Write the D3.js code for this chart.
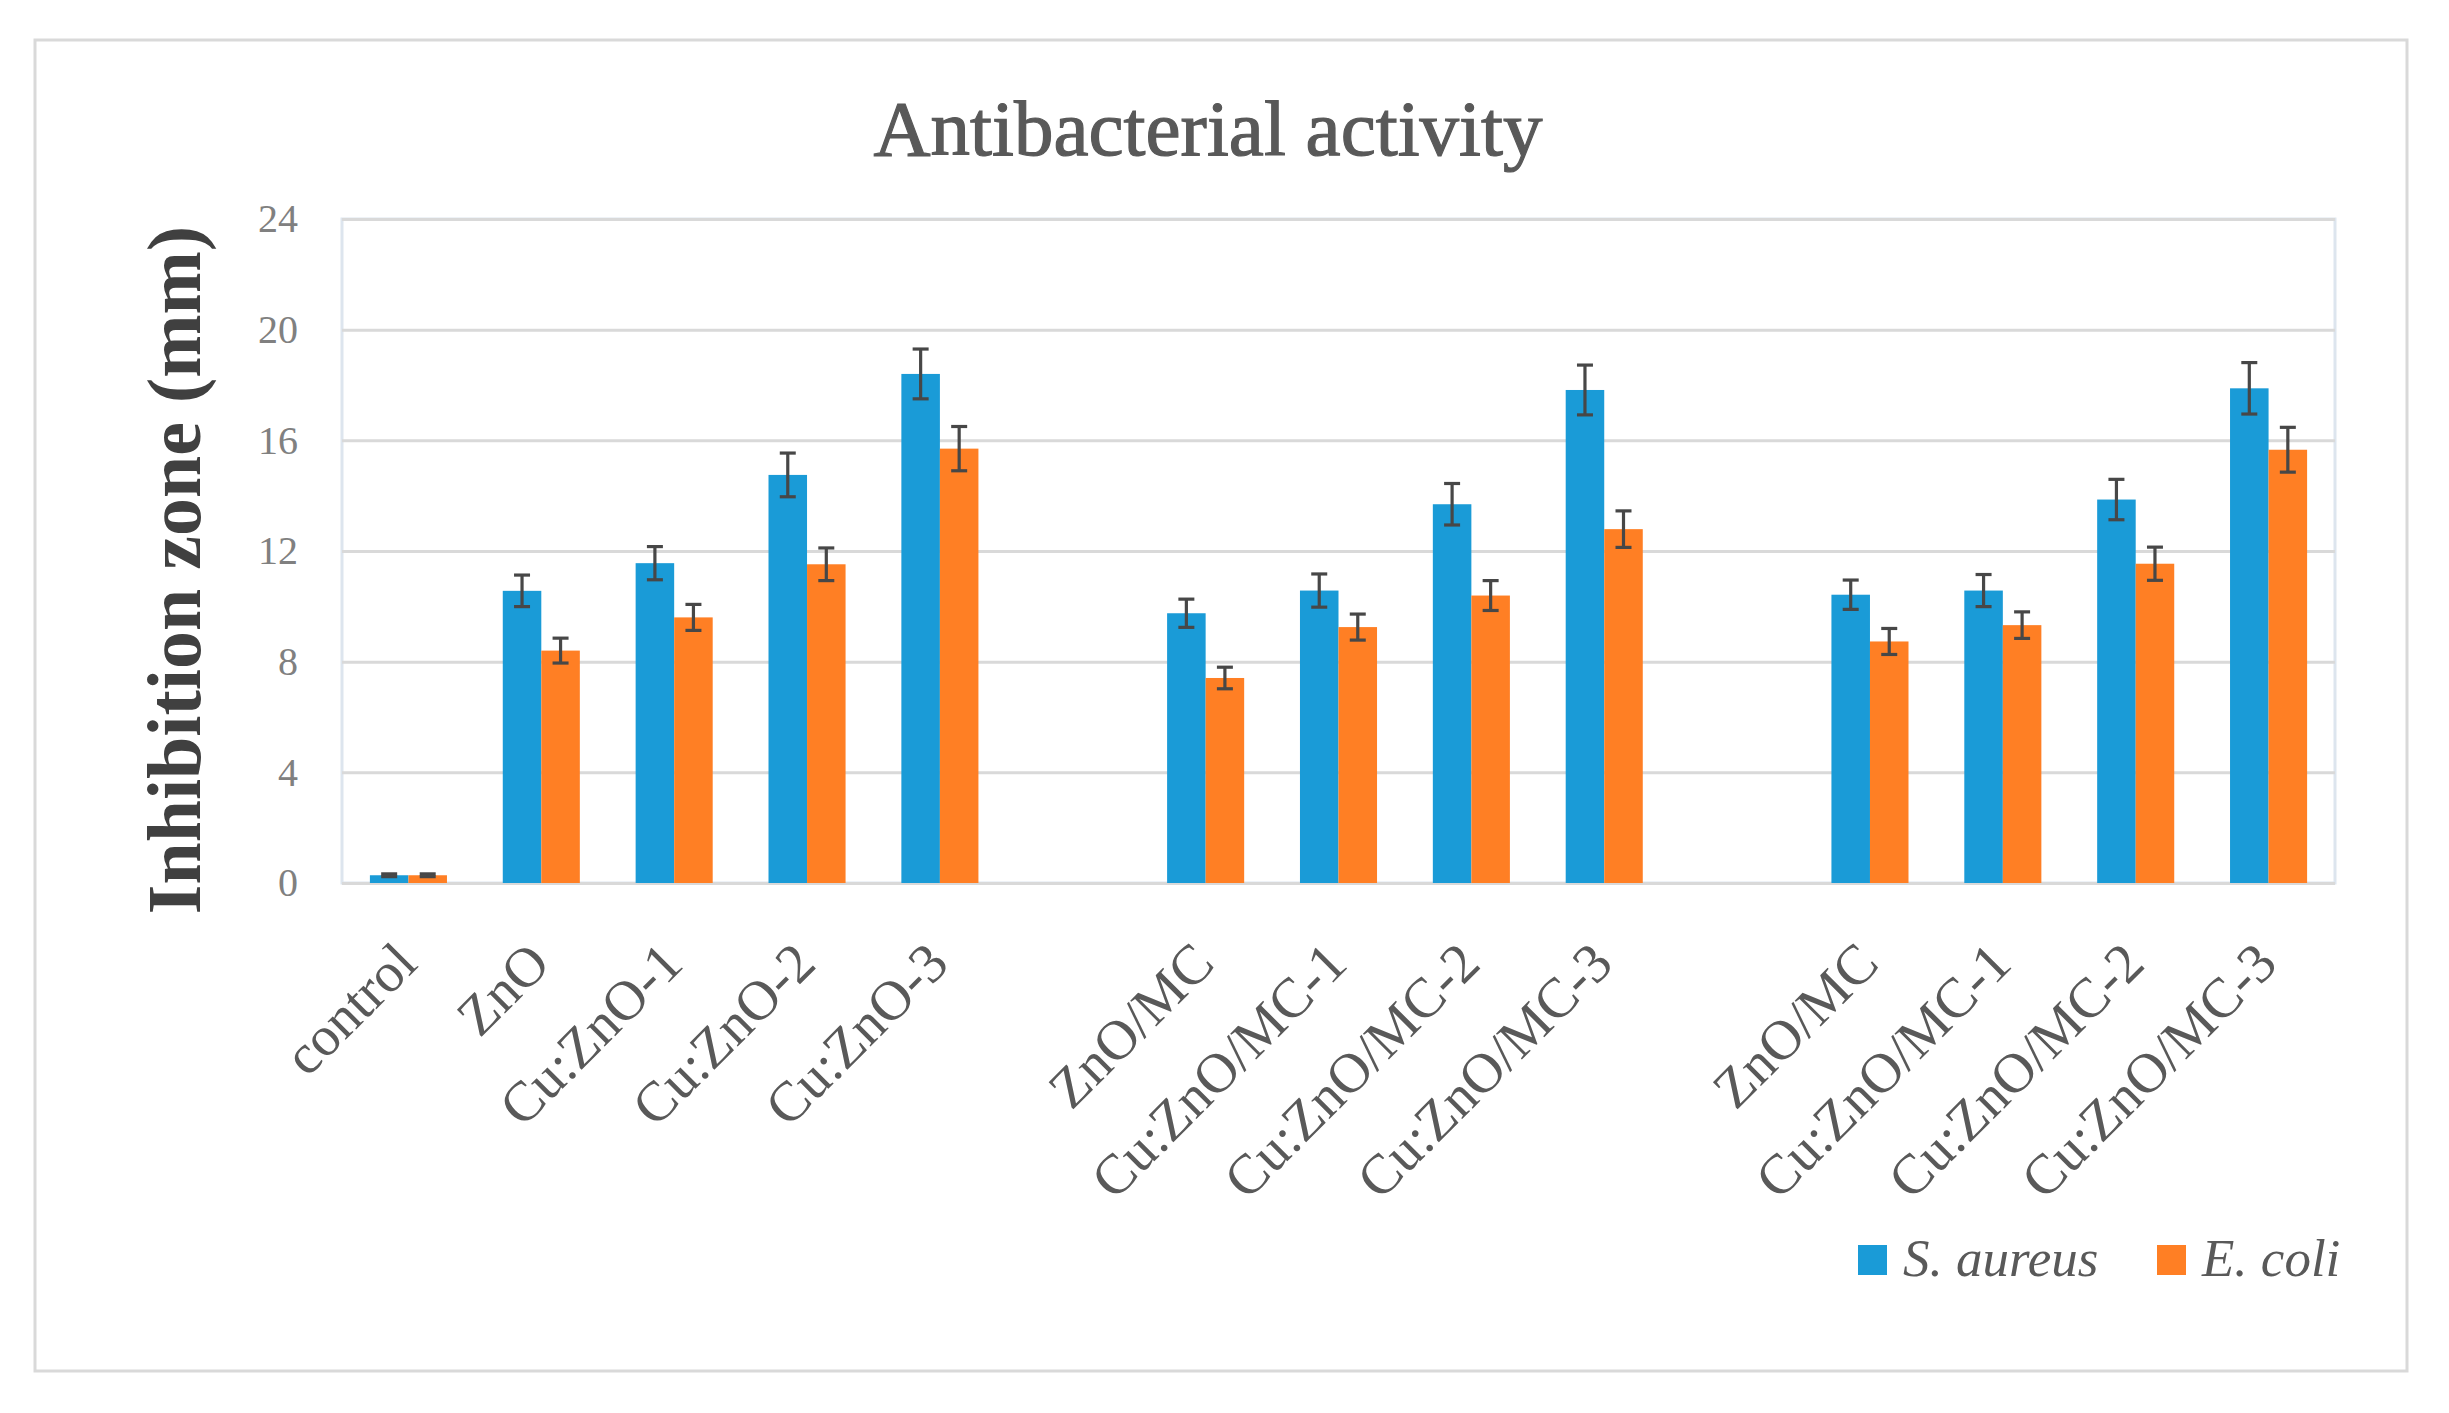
<!DOCTYPE html>
<html>
<head>
<meta charset="utf-8">
<script src="https://cdn.jsdelivr.net/npm/d3@7"></script>
<style>
  html, body { margin: 0; padding: 0; background: #ffffff; }
  svg { display: block; }
</style>
</head>
<body>
<svg id="chart" width="2449" height="1413"></svg>
<script>
// ---- data ----
const categories = ["control", "ZnO", "Cu:ZnO-1", "Cu:ZnO-2", "Cu:ZnO-3", "",
  "ZnO/MC", "Cu:ZnO/MC-1", "Cu:ZnO/MC-2", "Cu:ZnO/MC-3", "",
  "ZnO/MC", "Cu:ZnO/MC-1", "Cu:ZnO/MC-2", "Cu:ZnO/MC-3"];
const seriesNames = ["S. aureus", "E. coli"];
const sAureus    = [0.28, 10.56, 11.56, 14.75, 18.4, null, 9.75, 10.57, 13.69, 17.82, null, 10.42, 10.57, 13.86, 17.88];
const sAureusErr = [0.05, 0.57, 0.6, 0.79, 0.9, null, 0.51, 0.6, 0.75, 0.9, null, 0.53, 0.58, 0.73, 0.93];
const eColi      = [0.28, 8.4, 9.6, 11.52, 15.7, null, 7.41, 9.25, 10.39, 12.79, null, 8.73, 9.32, 11.54, 15.66];
const eColiErr   = [0.05, 0.45, 0.47, 0.59, 0.8, null, 0.39, 0.47, 0.54, 0.66, null, 0.47, 0.48, 0.6, 0.81];
const yTicks = [0, 4, 8, 12, 16, 20, 24];
const titleText = "Antibacterial activity";
const yLabelText = "Inhibition zone (mm)";

// ---- layout ----
const W = 2449, H = 1413;
const plot = { left: 342, right: 2335, top: 219, bottom: 883 };
const colors = ["#1a9bd7", "#ff7f24"];
const serif = "'Liberation Serif', 'Times New Roman', serif";

const svg = d3.select("#chart");

// outer frame
svg.append("rect")
  .attr("x", 35).attr("y", 40).attr("width", 2407 - 35).attr("height", 1371 - 40)
  .attr("fill", "#ffffff").attr("stroke", "#d9d9d9").attr("stroke-width", 3);

const x0 = d3.scaleBand()
  .domain(d3.range(categories.length))
  .range([plot.left, plot.right])
  .paddingInner(0.42).paddingOuter(0.21);
const x1 = d3.scaleBand().domain([0, 1]).range([0, x0.bandwidth()]);
const y = d3.scaleLinear().domain([0, 24]).range([plot.bottom, plot.top]);

// plot area border
svg.append("rect")
  .attr("x", plot.left).attr("y", plot.top)
  .attr("width", plot.right - plot.left).attr("height", plot.bottom - plot.top)
  .attr("fill", "none").attr("stroke", "#dde5ee").attr("stroke-width", 3);

// gridlines
const yAxis = d3.axisLeft(y).tickValues(yTicks)
  .tickSize(-(plot.right - plot.left)).tickFormat(d => d).tickPadding(44);
const gy = svg.append("g").attr("transform", `translate(${plot.left},0)`).call(yAxis);
gy.select(".domain").remove();
gy.selectAll(".tick line").attr("stroke", "#d9d9d9").attr("stroke-width", 3);
gy.selectAll(".tick text")
  .attr("font-family", serif).attr("font-size", 40).attr("fill", "#808080");

// bars
const rows = categories.map((c, i) => ({ i, vals: [sAureus[i], eColi[i]], errs: [sAureusErr[i], eColiErr[i]] }));
const groups = svg.append("g").selectAll("g")
  .data(rows.filter(r => r.vals[0] !== null))
  .join("g")
  .attr("transform", d => `translate(${x0(d.i)},0)`);

groups.selectAll("rect")
  .data(d => d.vals.map((v, k) => ({ v, k, e: d.errs[k] })))
  .join("rect")
  .attr("x", d => x1(d.k))
  .attr("width", x1.bandwidth())
  .attr("y", d => y(d.v))
  .attr("height", d => y(0) - y(d.v))
  .attr("fill", d => colors[d.k]);

// error bars
const capW = 16;
const eb = groups.selectAll("g.err")
  .data(d => d.vals.map((v, k) => ({ v, k, e: d.errs[k] })))
  .join("g").attr("class", "err")
  .attr("stroke", "#474747").attr("stroke-width", 3.2);
eb.append("line")
  .attr("x1", d => x1(d.k) + x1.bandwidth() / 2).attr("x2", d => x1(d.k) + x1.bandwidth() / 2)
  .attr("y1", d => y(d.v + d.e)).attr("y2", d => y(d.v - d.e));
eb.append("line")
  .attr("x1", d => x1(d.k) + x1.bandwidth() / 2 - capW / 2).attr("x2", d => x1(d.k) + x1.bandwidth() / 2 + capW / 2)
  .attr("y1", d => y(d.v + d.e)).attr("y2", d => y(d.v + d.e));
eb.append("line")
  .attr("x1", d => x1(d.k) + x1.bandwidth() / 2 - capW / 2).attr("x2", d => x1(d.k) + x1.bandwidth() / 2 + capW / 2)
  .attr("y1", d => y(d.v - d.e)).attr("y2", d => y(d.v - d.e));

// category labels (rotated)
svg.append("g").selectAll("text")
  .data(categories.map((c, i) => ({ c, i })).filter(d => d.c !== ""))
  .join("text")
  .attr("transform", d => `translate(${x0(d.i) + x0.bandwidth() / 2 + 2},${plot.bottom + 74}) rotate(-45)`)
  .attr("text-anchor", "end")
  .attr("dominant-baseline", "middle")
  .attr("font-family", serif).attr("font-size", 56).attr("fill", "#595959")
  .text(d => d.c);

// title
svg.append("text")
  .attr("x", 1208).attr("y", 155)
  .attr("text-anchor", "middle")
  .attr("font-family", serif).attr("font-size", 79).attr("fill", "#595959")
  .attr("stroke", "#595959").attr("stroke-width", 1.2)
  .text(titleText);

// y-axis label
svg.append("text")
  .attr("transform", `translate(200,570) rotate(-90)`)
  .attr("text-anchor", "middle")
  .attr("font-family", serif).attr("font-weight", "bold").attr("font-size", 76).attr("fill", "#404040")
  .text(yLabelText);

// legend
const legX = [1858, 2157];
const leg = svg.append("g").selectAll("g").data(seriesNames).join("g")
  .attr("transform", (d, k) => `translate(${legX[k]},1245)`);
leg.append("rect").attr("width", 29).attr("height", 30).attr("fill", (d, k) => colors[k]);
leg.append("text")
  .attr("x", 45).attr("y", 31)
  .attr("font-family", serif).attr("font-style", "italic").attr("font-size", 53).attr("fill", "#595959")
  .text(d => d);
</script>
</body>
</html>
